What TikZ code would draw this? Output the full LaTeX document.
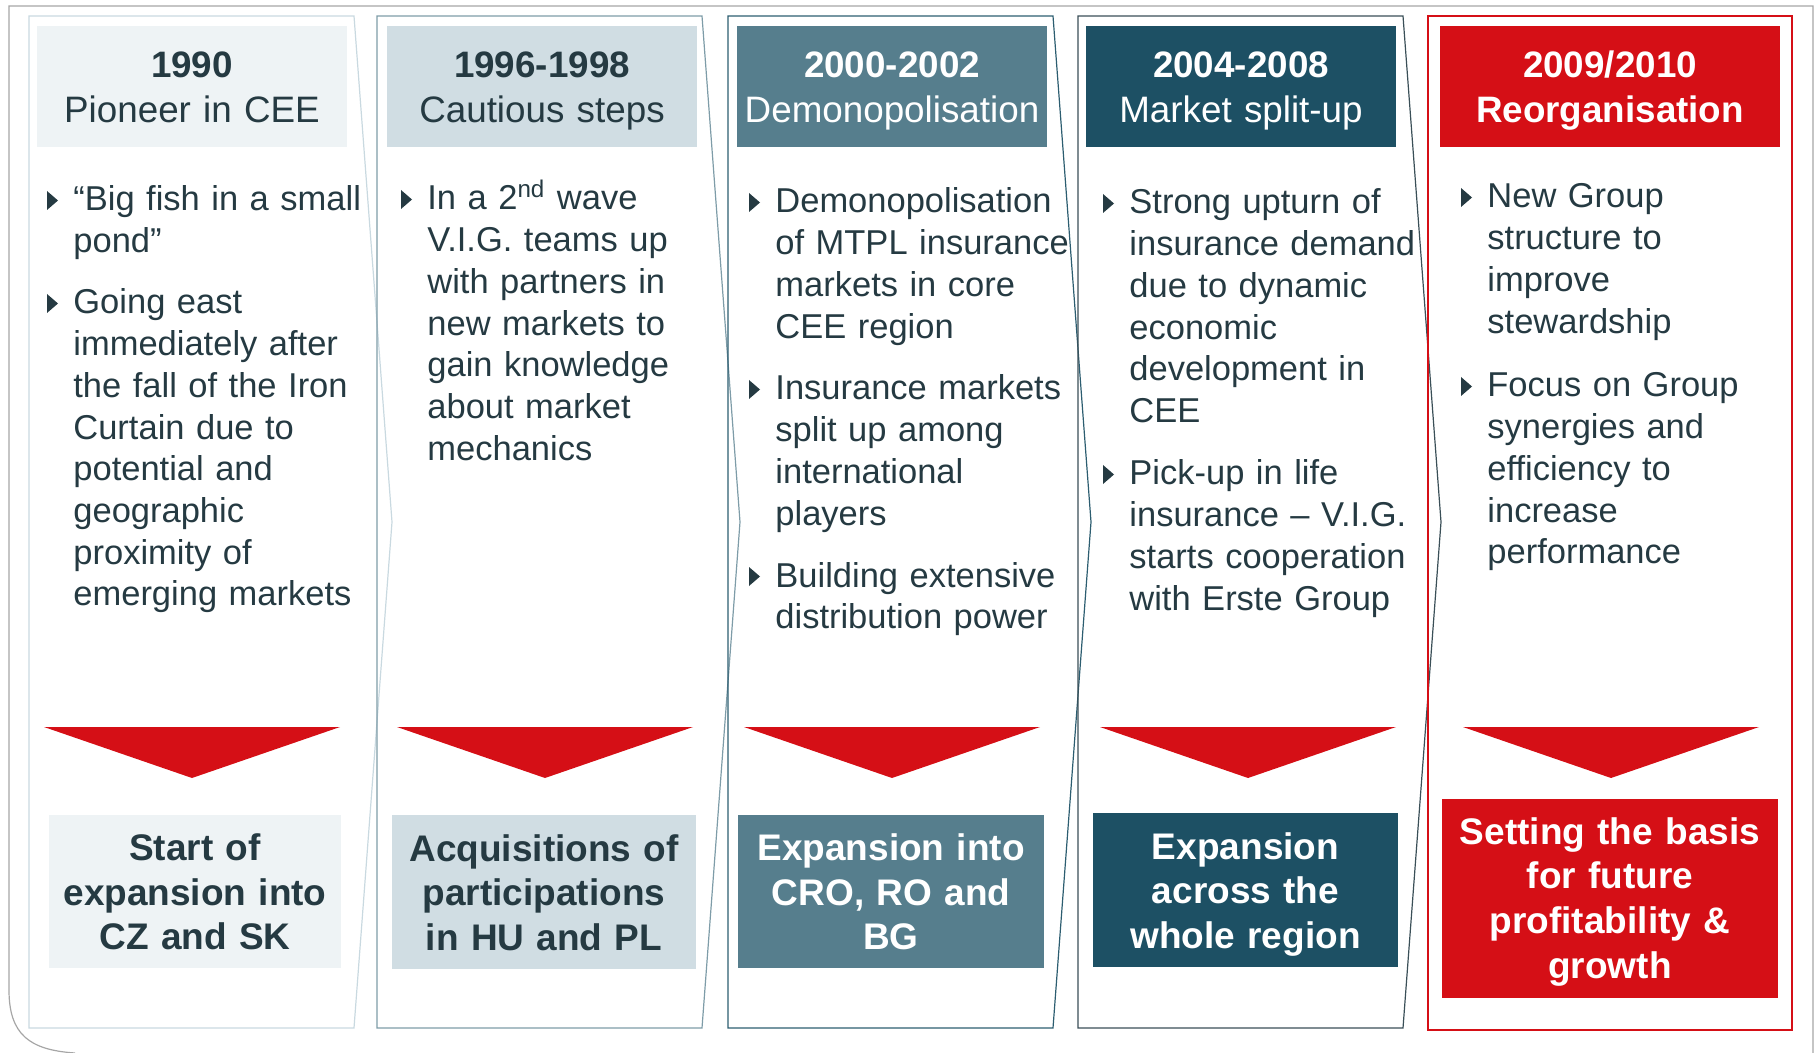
\documentclass[tikz,border=0pt]{standalone}
\usepackage{fontspec}
\setmainfont{Liberation Sans}
\usepackage{tikz}

\definecolor{vigtext}{HTML}{253A42}
\definecolor{vigpale}{HTML}{EEF3F5}
\definecolor{viglight}{HTML}{D0DDE3}
\definecolor{vigmid}{HTML}{567E8D}
\definecolor{vigdark}{HTML}{1D5064}
\definecolor{vigred}{HTML}{D50F16}
\definecolor{lineA}{HTML}{C9D9E0}
\definecolor{lineB}{HTML}{7E9CA8}
\definecolor{lineC}{HTML}{2C5D70}
\definecolor{lineD}{HTML}{3A4F57}

\begin{document}
\begin{tikzpicture}[x=0.5pt,y=-0.5pt,
    head/.style={inner sep=0pt,minimum width=155pt,minimum height=60.5pt,text width=155pt,align=center,
      text height=18pt,text depth=26.5pt,font=\fontsize{18.4}{22.5}\selectfont},
    body/.style={anchor=base west,inner sep=0pt,text width=175pt,align=left,text=vigtext,font=\fontsize{17.25}{20.85}\selectfont},
    result/.style={inner sep=0pt,align=center,text width=146pt,text height=17.7pt,text depth=48.7pt,font=\bfseries\fontsize{18.5}{22.35}\selectfont}]
  \useasboundingbox (0,0) rectangle (1815,1053);
  % page frame
  \draw[gray!70,line width=0.6pt] (1813,1053) -- (1813,6) -- (9,6) -- (9,990) .. controls (9,1035) and (30,1050) .. (75,1053);
  % phase outlines
  \foreach \l/\c in {29/lineA,377/lineB,728/lineC,1078/lineD}
    \draw[\c,line width=0.6pt] (\l,16) -- (\l+325,16) -- (\l+363,522) -- (\l+325,1028) -- (\l,1028) -- cycle;
  \draw[vigred,line width=1pt] (1428,16) rectangle (1792,1030);

  % headers
  \node[head,fill=vigpale,text=vigtext] (hdA) at (192,86.5) {\textbf{1990}\\Pioneer in CEE};
  \node[head,fill=viglight,text=vigtext] (hdB) at (542,86.5) {\textbf{1996-1998}\\Cautious steps};
  \node[head,fill=vigmid,text=white] (hdC) at (892,86.5) {\textbf{2000-2002}\\Demonopolisation};
  \node[head,fill=vigdark,text=white] (hdD) at (1241,86.5) {\textbf{2004-2008}\\Market split-up};
  \node[head,fill=vigred,text=white,minimum width=170pt,text width=170pt] (hdE) at (1610,86.5) {\textbf{2009/2010}\\\textbf{Reorganisation}};

  % bullet texts
  \node[body] (a1) at (73,211) {“Big fish in a small\\pond”};
  \node[body] (a2) at (73,314) {Going east\\immediately after\\the fall of the Iron\\Curtain due to\\potential and\\geographic\\proximity of\\emerging markets};
  \node[body] (b1) at (427,210) {In a 2\textsuperscript{nd} wave\\V.I.G. teams up\\with partners in\\new markets to\\gain knowledge\\about market\\mechanics};
  \node[body] (c1) at (775,213) {Demonopolisation\\of MTPL insurance\\markets in core\\CEE region};
  \node[body] (c2) at (775,400) {Insurance markets\\split up among\\international\\players};
  \node[body] (c3) at (775,587) {Building extensive\\distribution power};
  \node[body] (d1) at (1129,214) {Strong upturn of\\insurance demand\\due to dynamic\\economic\\development in\\CEE};
  \node[body] (d2) at (1129,485) {Pick-up in life\\insurance -- V.I.G.\\starts cooperation\\with Erste Group};
  \node[body] (e1) at (1487,208) {New Group\\structure to\\improve\\stewardship};
  \node[body] (e2) at (1487,397) {Focus on Group\\synergies and\\efficiency to\\increase\\performance};
  \foreach \b in {a1,a2,b1,c1,c2,c3,d1,d2,e1,e2}
    \fill[vigtext] ([shift={(-26,-1)}]\b.base west) -- ++(0,-19) -- ++(11,9.5) -- cycle;

  % red arrows
  \foreach \c in {192,545,892,1248,1611}
    \fill[vigred] (\c-148,727) -- (\c+148,727) -- (\c,778) -- cycle;

  % results
  \node[result,fill=vigpale,text=vigtext,minimum width=146pt,minimum height=76.5pt] (resA) at (195,891.5) {Start of\\expansion into\\CZ and SK};
  \node[result,fill=viglight,text=vigtext,minimum width=152pt,text width=152pt,minimum height=77pt] (resB) at (544,892) {Acquisitions of\\participations\\in HU and PL};
  \node[result,fill=vigmid,text=white,minimum width=153pt,text width=153pt,minimum height=76.5pt] (resC) at (891,891.5) {Expansion into\\CRO, RO and\\BG};
  \node[result,fill=vigdark,text=white,minimum width=152.5pt,text width=152.5pt,minimum height=77pt] (resD) at (1245.5,890) {Expansion\\across the\\whole region};
  \node[result,fill=vigred,text=white,minimum width=168pt,text width=168pt,minimum height=99.5pt,text height=16.5pt,text depth=71pt] (resE) at (1610,898.5) {Setting the basis\\for future\\profitability \&\\growth};
\end{tikzpicture}
\end{document}
